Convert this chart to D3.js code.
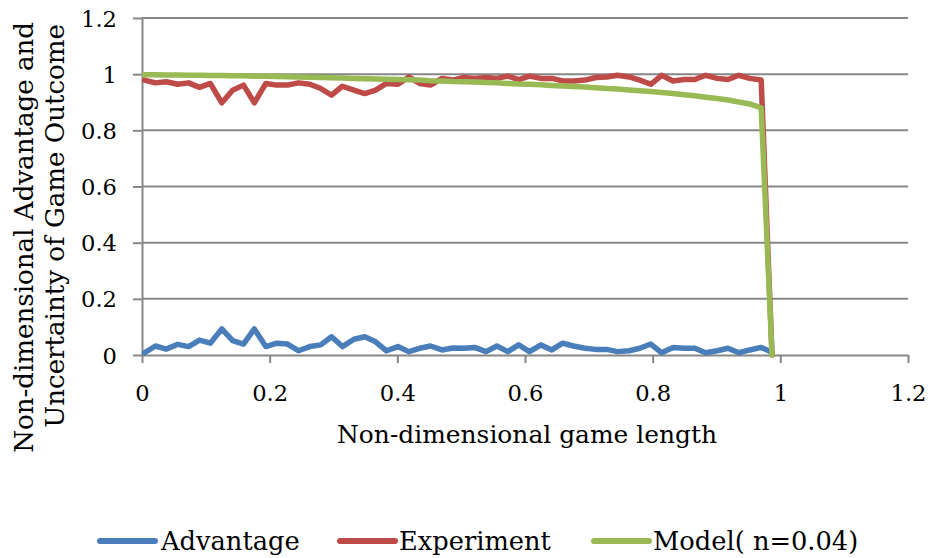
<!DOCTYPE html>
<html><head><meta charset="utf-8">
<script src="https://cdn.jsdelivr.net/npm/d3@7"></script>
<style>
body{margin:0;background:#fff}
svg{display:block;background:#fff}
text{font-family:"DejaVu Serif",serif;fill:#000}
</style>
</head><body>
<svg id="chart" width="932" height="558"></svg>
<script>
// ---- data ----
const xValues = [0.004,0.021,0.038,0.056,0.073,0.090,0.107,0.125,0.142,0.159,
  0.176,0.194,0.211,0.228,0.245,0.263,0.280,0.297,0.314,0.332,
  0.349,0.366,0.383,0.401,0.418,0.435,0.452,0.470,0.487,0.504,
  0.521,0.539,0.556,0.573,0.590,0.607,0.625,0.642,0.659,0.676,
  0.694,0.711,0.728,0.745,0.763,0.780,0.797,0.814,0.832,0.849,
  0.866,0.883,0.901,0.918,0.935,0.952,0.970,0.987];
const advantage = [0.008,0.032,0.021,0.038,0.030,0.053,0.042,0.093,0.051,0.039,
  0.093,0.030,0.042,0.039,0.015,0.030,0.036,0.065,0.030,0.056,
  0.065,0.047,0.015,0.030,0.012,0.024,0.032,0.018,0.025,0.024,
  0.027,0.012,0.032,0.012,0.036,0.012,0.036,0.018,0.042,0.032,
  0.024,0.020,0.020,0.012,0.015,0.024,0.039,0.008,0.027,0.024,
  0.024,0.008,0.015,0.024,0.008,0.018,0.027,0.010];
const experiment = [0.979,0.969,0.973,0.964,0.969,0.953,0.967,0.898,0.943,0.961,
  0.898,0.967,0.961,0.961,0.969,0.964,0.949,0.925,0.957,0.943,
  0.931,0.943,0.967,0.964,0.990,0.967,0.961,0.985,0.979,0.988,
  0.985,0.988,0.985,0.993,0.981,0.993,0.985,0.985,0.976,0.976,
  0.979,0.988,0.990,0.996,0.990,0.979,0.964,0.996,0.976,0.981,
  0.981,0.996,0.985,0.981,0.996,0.985,0.979,0.000];
const model = [0.998,0.998,0.997,0.997,0.996,0.996,0.995,0.995,0.994,0.994,
  0.993,0.993,0.992,0.991,0.990,0.989,0.988,0.987,0.986,0.985,
  0.984,0.983,0.982,0.981,0.980,0.979,0.977,0.976,0.974,0.973,
  0.972,0.970,0.969,0.967,0.965,0.964,0.962,0.960,0.958,0.956,
  0.954,0.952,0.949,0.947,0.944,0.941,0.938,0.935,0.931,0.927,
  0.923,0.918,0.913,0.908,0.901,0.894,0.880,0.000];
const xTicks = [0,0.2,0.4,0.6,0.8,1,1.2];
const xTickLabels = ["0","0.2","0.4","0.6","0.8","1","1.2"];
const yTicks = [0,0.2,0.4,0.6,0.8,1,1.2];
const yTickLabels = ["0","0.2","0.4","0.6","0.8","1","1.2"];
const seriesNames = ["Advantage","Experiment","Model( n=0.04)"];
const seriesColors = ["#4A7EBB","#BE4B48","#98B954"];
const xTitle = "Non-dimensional game length";
const yTitleLines = ["Non-dimensional Advantage and","Uncertainty of Game Outcome"];

// ---- layout ----
const svg = d3.select("#chart");
const L = 142, R = 908, T = 18, B = 355;
const gridColor = "#878787";
const x = d3.scaleLinear().domain([0,1.2]).range([L,R]);
const y = d3.scaleLinear().domain([0,1.2]).range([B,T]);

function fit(node, target){
  const len = node.getComputedTextLength();
  const fs = parseFloat(node.getAttribute("font-size"));
  return fs*target/len;
}

// gridlines
svg.append("g").selectAll("line").data(yTicks.filter(d=>d>0)).join("line")
  .attr("x1",L).attr("x2",R).attr("y1",d=>y(d)).attr("y2",d=>y(d))
  .attr("stroke",gridColor).attr("stroke-width",2);

// axes
const xAxis = svg.append("g").attr("transform",`translate(0,${B})`)
  .call(d3.axisBottom(x).tickValues(xTicks).tickSize(8).tickSizeOuter(0)
        .tickFormat((d,i)=>xTickLabels[i]));
const yAxis = svg.append("g").attr("transform",`translate(${L},0)`)
  .call(d3.axisLeft(y).tickValues(yTicks).tickSize(9).tickSizeOuter(0)
        .tickFormat((d,i)=>yTickLabels[i]));
[xAxis,yAxis].forEach(g=>{
  g.selectAll("path.domain").attr("stroke",gridColor).attr("stroke-width",2);
  g.selectAll(".tick line").attr("stroke",gridColor).attr("stroke-width",2);
  g.selectAll("text").attr("font-family","DejaVu Serif").attr("font-size",22).attr("fill","#000");
});
// tick font size fit to reference label width
const tickFs = fit(xAxis.selectAll("text").nodes()[1], 36);
xAxis.selectAll("text").attr("font-size",tickFs).attr("y",46).attr("dy",0);
yAxis.selectAll("text").attr("font-size",tickFs).attr("x",-25).attr("dy","0.36em");

// series lines
const series = [advantage, experiment, model];
const line = d3.line().x((d,i)=>x(xValues[i])).y(d=>y(d));
svg.append("g").selectAll("path").data(series).join("path")
  .attr("d",d=>line(d)).attr("fill","none")
  .attr("stroke",(d,i)=>seriesColors[i]).attr("stroke-width",5.5)
  .attr("stroke-linejoin","round").attr("stroke-linecap","round");

// x title
const xt = svg.append("text").attr("x",527).attr("y",443).attr("text-anchor","middle")
  .attr("font-size",23).text(xTitle);
xt.attr("font-size", fit(xt.node(), 380));

// y title (two lines, end-aligned at top)
const yt1 = svg.append("text").attr("transform","translate(33,22) rotate(-90)")
  .attr("text-anchor","end").attr("font-size",23).text(yTitleLines[0]);
const yFs = fit(yt1.node(), 431);
yt1.attr("font-size", yFs);
svg.append("text").attr("transform","translate(64,24) rotate(-90)")
  .attr("text-anchor","end").attr("font-size",yFs).text(yTitleLines[1]);

// legend
const legX = [100, 340, 594];
const lg = svg.append("g").selectAll("g").data(seriesNames).join("g")
  .attr("transform",(d,i)=>`translate(${legX[i]},541)`);
lg.append("line").attr("x1",0).attr("x2",55).attr("y1",0).attr("y2",0)
  .attr("stroke",(d,i)=>seriesColors[i]).attr("stroke-width",6).attr("stroke-linecap","round");
const lt = lg.append("text").attr("x",(d,i)=>i===0?61:59).attr("y",9).attr("font-size",24).text(d=>d);
const legFs = fit(lt.nodes()[1], 152);
lt.attr("font-size", legFs);
</script>
</body></html>
